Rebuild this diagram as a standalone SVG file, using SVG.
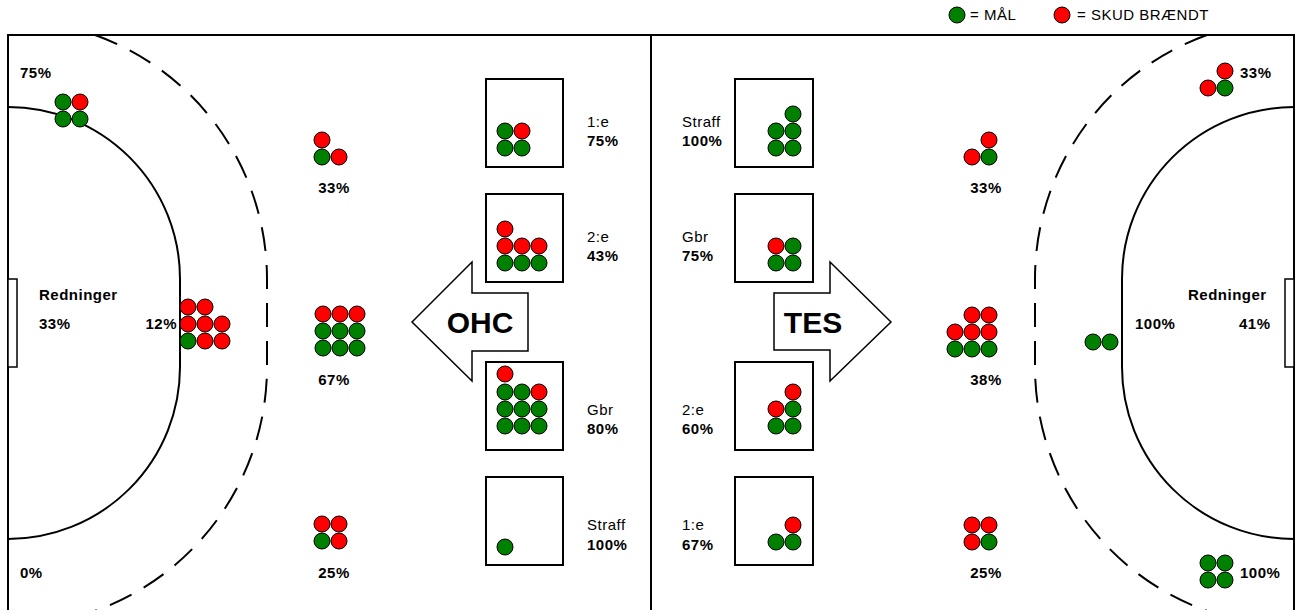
<svg xmlns="http://www.w3.org/2000/svg" width="1295" height="610" viewBox="0 0 1295 610">
<style>
  .g{fill:#008000;stroke:#000;stroke-width:1}
  .r{fill:#ff0000;stroke:#000;stroke-width:1}
  .line{fill:none;stroke:#000;stroke-width:2}
  .dash{fill:none;stroke:#000;stroke-width:2;stroke-dasharray:24 14}
  .box{fill:#fff;stroke:#000;stroke-width:2}
  .goal{fill:#fff;stroke:#000;stroke-width:1.5}
  .arrow{fill:#fff;stroke:#000;stroke-width:1.5}
  text{font-family:"Liberation Sans",Arial,sans-serif;font-size:15px;fill:#000;letter-spacing:0.5px}
  .b{font-weight:bold}
  .m{text-anchor:middle}
  .e{text-anchor:end}
  .big{font-size:30px;font-weight:bold;letter-spacing:0;text-anchor:middle}
</style>
<rect width="1295" height="610" fill="#fff"/>

<g id="legend">
  <circle class="g" cx="957" cy="15" r="8"/>
  <text x="970" y="20">= MÅL</text>
  <circle class="r" cx="1062" cy="15" r="8"/>
  <text x="1077" y="20">= SKUD BRÆNDT</text>
</g>

<g id="field">
  <rect class="line" x="8" y="35" width="1286" height="600"/>
  <line class="line" x1="651" y1="35" x2="651" y2="612"/>
  <g id="left-area">
    <path class="line" d="M8,107 A172,172 0 0 1 180,279 L180,367 A172,172 0 0 1 8,539"/>
    <path class="dash" d="M95,35 A259,259 0 0 1 267,279 L267,367 A259,259 0 0 1 8,626"/>
    <rect class="goal" x="8" y="279" width="9" height="88"/>
  </g>
  <g id="right-area" transform="matrix(-1 0 0 1 1302 0)">
    <path class="line" d="M8,107 A172,172 0 0 1 180,279 L180,367 A172,172 0 0 1 8,539"/>
    <path class="dash" d="M95,35 A259,259 0 0 1 267,279 L267,367 A259,259 0 0 1 8,626"/>
    <rect class="goal" x="8" y="279" width="9" height="88"/>
  </g>
</g>

<!-- Left half -->
<g id="l-corner-top">
  <text class="b" x="20" y="78">75%</text>
  <circle class="g" cx="63" cy="102" r="8"/><circle class="r" cx="80" cy="102" r="8"/>
  <circle class="g" cx="63" cy="119" r="8"/><circle class="g" cx="80" cy="119" r="8"/>
</g>
<g id="l-top">
  <circle class="r" cx="322" cy="140" r="8"/>
  <circle class="g" cx="322" cy="157" r="8"/><circle class="r" cx="339" cy="157" r="8"/>
  <text class="b m" x="334" y="193">33%</text>
</g>
<g id="l-keeper">
  <text class="b" x="39" y="300">Redninger</text>
  <text class="b" x="39" y="329">33%</text>
</g>
<g id="l-circle">
  <text class="b e" x="177" y="329">12%</text>
  <circle class="r" cx="188" cy="307" r="8"/><circle class="r" cx="205" cy="307" r="8"/>
  <circle class="r" cx="188" cy="324" r="8"/><circle class="r" cx="205" cy="324" r="8"/><circle class="r" cx="222" cy="324" r="8"/>
  <circle class="g" cx="188" cy="341" r="8"/><circle class="r" cx="205" cy="341" r="8"/><circle class="r" cx="222" cy="341" r="8"/>
</g>
<g id="l-mid">
  <circle class="r" cx="323" cy="314" r="8"/><circle class="r" cx="340" cy="314" r="8"/><circle class="r" cx="357" cy="314" r="8"/>
  <circle class="g" cx="323" cy="331" r="8"/><circle class="g" cx="340" cy="331" r="8"/><circle class="g" cx="357" cy="331" r="8"/>
  <circle class="g" cx="323" cy="348" r="8"/><circle class="g" cx="340" cy="348" r="8"/><circle class="g" cx="357" cy="348" r="8"/>
  <text class="b m" x="334" y="385">67%</text>
</g>
<g id="l-corner-bottom">
  <text class="b" x="20" y="578">0%</text>
</g>
<g id="l-bottom">
  <circle class="r" cx="322" cy="524" r="8"/><circle class="r" cx="339" cy="524" r="8"/>
  <circle class="g" cx="322" cy="541" r="8"/><circle class="r" cx="339" cy="541" r="8"/>
  <text class="b m" x="334" y="578">25%</text>
</g>

<g id="ohc-box-1">
  <rect class="box" x="486" y="79" width="77" height="88"/>
  <circle class="g" cx="505" cy="131" r="8"/><circle class="r" cx="522" cy="131" r="8"/>
  <circle class="g" cx="505" cy="148" r="8"/><circle class="g" cx="522" cy="148" r="8"/>
  <text x="587" y="127">1:e</text>
  <text class="b" x="587" y="146">75%</text>
</g>
<g id="ohc-box-2">
  <rect class="box" x="486" y="194" width="77" height="88"/>
  <circle class="r" cx="505" cy="229" r="8"/>
  <circle class="r" cx="505" cy="246" r="8"/><circle class="r" cx="522" cy="246" r="8"/><circle class="r" cx="539" cy="246" r="8"/>
  <circle class="g" cx="505" cy="263" r="8"/><circle class="g" cx="522" cy="263" r="8"/><circle class="g" cx="539" cy="263" r="8"/>
  <text x="587" y="242">2:e</text>
  <text class="b" x="587" y="261">43%</text>
</g>
<g id="ohc-arrow">
  <polygon class="arrow" points="412,322 472,262 472,293 528,293 528,351 472,351 472,381"/>
  <text class="big" x="480" y="333">OHC</text>
</g>
<g id="ohc-box-3">
  <rect class="box" x="486" y="362" width="77" height="88"/>
  <circle class="r" cx="505" cy="374" r="8"/>
  <circle class="g" cx="505" cy="392" r="8"/><circle class="g" cx="522" cy="392" r="8"/><circle class="r" cx="539" cy="392" r="8"/>
  <circle class="g" cx="505" cy="409" r="8"/><circle class="g" cx="522" cy="409" r="8"/><circle class="g" cx="539" cy="409" r="8"/>
  <circle class="g" cx="505" cy="426" r="8"/><circle class="g" cx="522" cy="426" r="8"/><circle class="g" cx="539" cy="426" r="8"/>
  <text x="587" y="415">Gbr</text>
  <text class="b" x="587" y="434">80%</text>
</g>
<g id="ohc-box-4">
  <rect class="box" x="486" y="477" width="77" height="88"/>
  <circle class="g" cx="505" cy="547" r="8"/>
  <text x="587" y="530">Straff</text>
  <text class="b" x="587" y="550">100%</text>
</g>

<!-- Right half -->
<g id="tes-box-1">
  <rect class="box" x="735" y="79" width="78" height="88"/>
  <circle class="g" cx="793" cy="114" r="8"/>
  <circle class="g" cx="776" cy="131" r="8"/><circle class="g" cx="793" cy="131" r="8"/>
  <circle class="g" cx="776" cy="148" r="8"/><circle class="g" cx="793" cy="148" r="8"/>
  <text x="682" y="127">Straff</text>
  <text class="b" x="682" y="146">100%</text>
</g>
<g id="tes-box-2">
  <rect class="box" x="735" y="194" width="78" height="88"/>
  <circle class="r" cx="776" cy="246" r="8"/><circle class="g" cx="793" cy="246" r="8"/>
  <circle class="g" cx="776" cy="263" r="8"/><circle class="g" cx="793" cy="263" r="8"/>
  <text x="682" y="242">Gbr</text>
  <text class="b" x="682" y="261">75%</text>
</g>
<g id="tes-arrow">
  <polygon class="arrow" points="891,322 830,262 830,293 774,293 774,350 830,350 830,381"/>
  <text class="big" x="813" y="333">TES</text>
</g>
<g id="tes-box-3">
  <rect class="box" x="735" y="362" width="78" height="88"/>
  <circle class="r" cx="793" cy="392" r="8"/>
  <circle class="r" cx="776" cy="409" r="8"/><circle class="g" cx="793" cy="409" r="8"/>
  <circle class="g" cx="776" cy="426" r="8"/><circle class="g" cx="793" cy="426" r="8"/>
  <text x="682" y="415">2:e</text>
  <text class="b" x="682" y="434">60%</text>
</g>
<g id="tes-box-4">
  <rect class="box" x="735" y="477" width="78" height="88"/>
  <circle class="r" cx="793" cy="525" r="8"/>
  <circle class="g" cx="776" cy="542" r="8"/><circle class="g" cx="793" cy="542" r="8"/>
  <text x="682" y="530">1:e</text>
  <text class="b" x="682" y="550">67%</text>
</g>

<g id="r-corner-top">
  <circle class="r" cx="1225" cy="71" r="8"/>
  <circle class="r" cx="1208" cy="88" r="8"/><circle class="g" cx="1225" cy="88" r="8"/>
  <text class="b" x="1240" y="78">33%</text>
</g>
<g id="r-top">
  <circle class="r" cx="989" cy="140" r="8"/>
  <circle class="r" cx="972" cy="157" r="8"/><circle class="g" cx="989" cy="157" r="8"/>
  <text class="b m" x="986" y="193">33%</text>
</g>
<g id="r-mid">
  <circle class="r" cx="972" cy="315" r="8"/><circle class="r" cx="989" cy="315" r="8"/>
  <circle class="r" cx="955" cy="332" r="8"/><circle class="r" cx="972" cy="332" r="8"/><circle class="r" cx="989" cy="332" r="8"/>
  <circle class="g" cx="955" cy="349" r="8"/><circle class="g" cx="972" cy="349" r="8"/><circle class="g" cx="989" cy="349" r="8"/>
  <text class="b m" x="986" y="385">38%</text>
</g>
<g id="r-circle">
  <circle class="g" cx="1093" cy="342" r="8"/><circle class="g" cx="1110" cy="342" r="8"/>
  <text class="b" x="1135" y="329">100%</text>
</g>
<g id="r-keeper">
  <text class="b" x="1188" y="300">Redninger</text>
  <text class="b" x="1239" y="329">41%</text>
</g>
<g id="r-bottom">
  <circle class="r" cx="972" cy="525" r="8"/><circle class="r" cx="989" cy="525" r="8"/>
  <circle class="r" cx="972" cy="542" r="8"/><circle class="g" cx="989" cy="542" r="8"/>
  <text class="b m" x="986" y="578">25%</text>
</g>
<g id="r-corner-bottom">
  <circle class="g" cx="1208" cy="563" r="8"/><circle class="g" cx="1225" cy="563" r="8"/>
  <circle class="g" cx="1208" cy="580" r="8"/><circle class="g" cx="1225" cy="580" r="8"/>
  <text class="b" x="1240" y="578">100%</text>
</g>
</svg>
